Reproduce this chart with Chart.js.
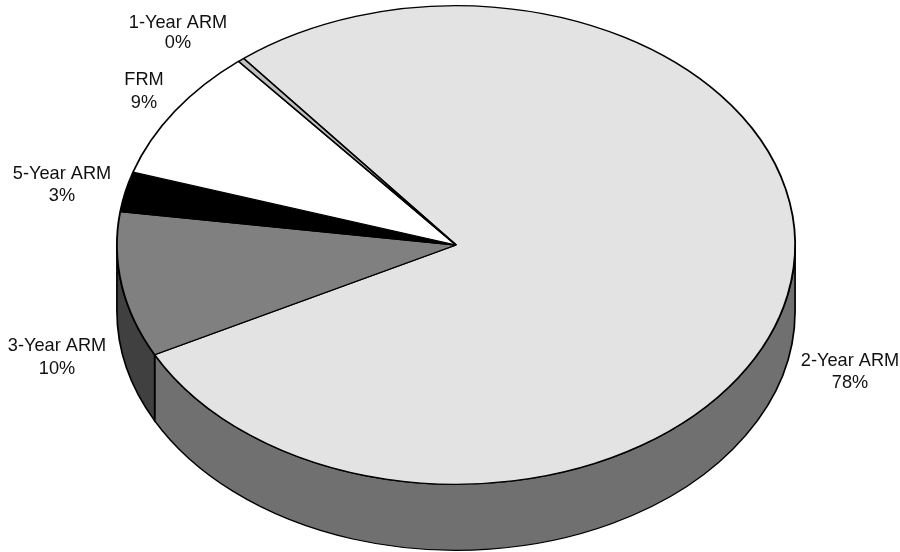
<!DOCTYPE html>
<html>
<head>
<meta charset="utf-8">
<style>
  html, body { margin: 0; padding: 0; background: #fff; }
  canvas { display: block; }
</style>
<script src="https://cdn.jsdelivr.net/npm/chart.js@4"></script>
</head>
<body>
<canvas id="pie" width="900" height="552"></canvas>
<script>
// Share of loans by product type, in percent
const categories = ['2-Year ARM', '3-Year ARM', '5-Year ARM', 'FRM', '1-Year ARM'];
const shares = [78.2, 9.8, 2.7, 9.0, 0.3];

const faceColors = ['#e3e3e3', '#808080', '#000000', '#ffffff', '#c0c0c0'];
const wallColors = ['#707070', '#404040', '#000000', '#c0c0c0', '#606060'];

// Centre of each two-line label: x, first-line y, second-line y
const labelCentres = [
  [850, 361, 383],
  [57, 346, 369],
  [62, 174, 196],
  [144, 80, 103],
  [178, 23, 43]
];

const stretchX = 340 / 240;   // tilted disc: wider than it is tall
const thickness = 66;         // visible height of the disc's side wall

function applyDiscTransform(ctx, cx) {
  ctx.translate(cx, 0);
  ctx.scale(stretchX, 1);
  ctx.translate(-cx, 0);
}

const tiltedDisc = {
  id: 'tiltedDisc',
  beforeDatasetsDraw(chart) {
    const ctx = chart.ctx;
    ctx.save();
    applyDiscTransform(ctx, chart.getDatasetMeta(0).data[0].x);

    // Side wall: only the part of each slice's rim that faces the viewer
    chart.getDatasetMeta(0).data.forEach((arc, i) => {
      const { x, y, startAngle, endAngle, outerRadius } = arc.getProps(
        ['x', 'y', 'startAngle', 'endAngle', 'outerRadius'], true);
      const a = Math.max(startAngle, 0);
      const b = Math.min(endAngle, Math.PI);
      if (b <= a) return;
      ctx.beginPath();
      ctx.arc(x, y, outerRadius, a, b);
      ctx.arc(x, y + thickness, outerRadius, b, a, true);
      ctx.closePath();
      ctx.fillStyle = wallColors[i];
      ctx.fill();
      ctx.lineWidth = 1.2;
      ctx.strokeStyle = '#000';
      ctx.stroke();
    });
  },
  afterDatasetsDraw(chart) {
    chart.ctx.restore();
  },
  afterDraw(chart) {
    const ctx = chart.ctx;
    ctx.save();
    ctx.font = '18.2px "Liberation Sans", Arial, sans-serif';
    ctx.fillStyle = '#111';
    ctx.textAlign = 'center';
    ctx.textBaseline = 'middle';
    categories.forEach((name, i) => {
      const [x, y1, y2] = labelCentres[i];
      ctx.fillText(name, x, y1);
      ctx.fillText(Math.round(shares[i]) + '%', x, y2);
    });
    ctx.restore();
  }
};

new Chart(document.getElementById('pie'), {
  type: 'pie',
  data: {
    labels: categories,
    datasets: [{
      data: shares,
      backgroundColor: faceColors,
      borderColor: '#000',
      borderWidth: 1.3,
      clip: false
    }]
  },
  options: {
    responsive: false,
    animation: false,
    events: [],
    rotation: -38.8,
    layout: { padding: { left: 12, right: 0, top: 5, bottom: 67 } },
    plugins: { legend: { display: false }, tooltip: { enabled: false } }
  },
  plugins: [tiltedDisc]
});
</script>
</body>
</html>
